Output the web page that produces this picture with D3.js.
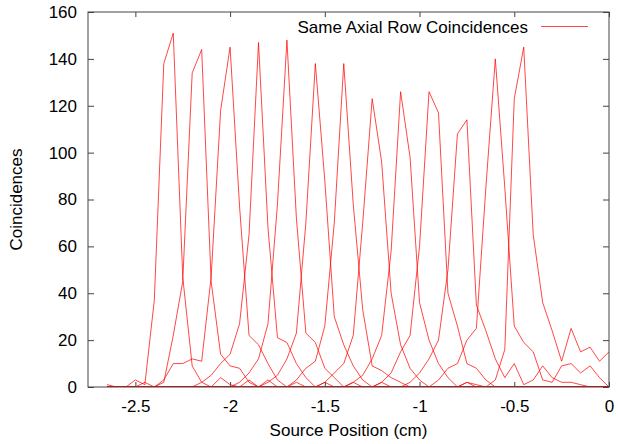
<!DOCTYPE html>
<html>
<head>
<meta charset="utf-8">
<script src="https://cdn.jsdelivr.net/npm/d3@7"></script>
<style>
  body { margin: 0; background: #fff; }
  svg text { font-family: "Liberation Sans", Arial, Helvetica, sans-serif; }
</style>
</head>
<body>
<div id="container"></div>
<script>
// source positions (cm), one per sample
const positions = [
  -2.65, -2.6, -2.55, -2.5, -2.45, -2.4, -2.35, -2.3, -2.25, -2.2,
  -2.15, -2.1, -2.05, -2.0, -1.95, -1.9, -1.85, -1.8, -1.75, -1.7,
  -1.65, -1.6, -1.55, -1.5, -1.45, -1.4, -1.35, -1.3, -1.25, -1.2,
  -1.15, -1.1, -1.05, -1.0, -0.95, -0.9, -0.85, -0.8, -0.75, -0.7,
  -0.65, -0.6, -0.55, -0.5, -0.45, -0.4, -0.35, -0.3, -0.25, -0.2,
  -0.15, -0.1, -0.05, 0
];

// coincidences for each crystal row (same sample order as positions)
const row01 = [1, 0, 0, 3, 1, 37, 138, 151, 47, 9,
  2, 0, 4, 1, 0, 3, 0, 0, 0, 0,
  0, 0, 0, 0, 0, 0, 0, 0, 0, 0,
  0, 0, 0, 0, 0, 0, 0, 0, 0, 0,
  0, 0, 0, 0, 0, 0, 0, 0, 0, 0,
  0, 0, 0, 0];
const row02 = [0, 0, 0, 0, 2, 0, 2, 22, 45, 134,
  144, 45, 14, 9, 8, 2, 0, 3, 0, 0,
  0, 0, 0, 0, 0, 0, 0, 0, 0, 0,
  0, 0, 0, 0, 0, 0, 0, 0, 0, 0,
  0, 0, 0, 0, 0, 0, 0, 0, 0, 0,
  0, 0, 0, 0];
const row03 = [0, 0, 0, 0, 0, 0, 3, 10, 10, 12,
  11, 47, 118, 145, 77, 22, 18, 10, 3, 0,
  2, 0, 0, 0, 0, 0, 0, 0, 0, 0,
  0, 0, 0, 0, 0, 0, 0, 0, 0, 0,
  0, 0, 0, 0, 0, 0, 0, 0, 0, 0,
  0, 0, 0, 0];
const row04 = [0, 0, 0, 0, 0, 0, 0, 0, 0, 0,
  2, 5, 10, 14, 27, 65, 147, 68, 21, 19,
  10, 4, 0, 2, 0, 0, 0, 0, 0, 0,
  0, 0, 0, 0, 0, 0, 0, 0, 0, 0,
  0, 0, 0, 0, 0, 0, 0, 0, 0, 0,
  0, 0, 0, 0];
const row05 = [0, 0, 0, 0, 0, 0, 0, 0, 0, 0,
  0, 0, 0, 0, 2, 6, 12, 27, 78, 148,
  72, 23, 19, 8, 4, 0, 2, 0, 0, 0,
  0, 0, 0, 0, 0, 0, 0, 0, 0, 0,
  0, 0, 0, 0, 0, 0, 0, 0, 0, 0,
  0, 0, 0, 0];
const row06 = [0, 0, 0, 0, 0, 0, 0, 0, 0, 0,
  0, 0, 0, 0, 0, 0, 0, 2, 5, 12,
  23, 70, 138, 88, 30, 18, 9, 3, 0, 2,
  0, 0, 0, 0, 0, 0, 0, 0, 0, 0,
  0, 0, 0, 0, 0, 0, 0, 0, 0, 0,
  0, 0, 0, 0];
const row07 = [0, 0, 0, 0, 0, 0, 0, 0, 0, 0,
  0, 0, 0, 0, 0, 0, 0, 0, 0, 0,
  3, 8, 11, 26, 70, 138, 78, 33, 9, 7,
  4, 2, 0, 0, 0, 0, 0, 0, 0, 0,
  0, 0, 0, 0, 0, 0, 0, 0, 0, 0,
  0, 0, 0, 0];
const row08 = [0, 0, 0, 0, 0, 0, 0, 0, 0, 0,
  0, 0, 0, 0, 0, 0, 0, 0, 0, 0,
  0, 0, 0, 2, 6, 10, 22, 70, 123, 96,
  40, 18, 8, 3, 0, 0, 0, 0, 0, 0,
  0, 0, 0, 0, 0, 0, 0, 0, 0, 0,
  0, 0, 0, 0];
const row09 = [0, 0, 0, 0, 0, 0, 0, 0, 0, 0,
  0, 0, 0, 0, 0, 0, 0, 0, 0, 0,
  0, 0, 0, 0, 0, 0, 2, 5, 12, 22,
  58, 126, 98, 36, 20, 10, 4, 0, 2, 0,
  0, 0, 0, 0, 0, 0, 0, 0, 0, 0,
  0, 0, 0, 0];
const row10 = [0, 0, 0, 0, 0, 0, 0, 0, 0, 0,
  0, 0, 0, 0, 0, 0, 0, 0, 0, 0,
  0, 0, 0, 0, 0, 0, 0, 0, 0, 2,
  6, 15, 22, 60, 126, 117, 40, 26, 10, 8,
  3, 0, 0, 0, 0, 0, 0, 0, 0, 0,
  0, 0, 0, 0];
const row11 = [0, 0, 0, 0, 0, 0, 0, 0, 0, 0,
  0, 0, 0, 0, 0, 0, 0, 0, 0, 0,
  0, 0, 0, 0, 0, 0, 0, 0, 0, 0,
  0, 0, 2, 6, 12, 20, 50, 108, 114, 35,
  24, 12, 4, 10, 1, 3, 9, 4, 2, 2,
  1, 0, 0, 0];
const row12 = [0, 0, 0, 0, 0, 0, 0, 0, 0, 0,
  0, 0, 0, 0, 0, 0, 0, 0, 0, 0,
  0, 0, 0, 0, 0, 0, 0, 0, 0, 0,
  0, 0, 0, 0, 0, 3, 8, 10, 20, 25,
  85, 140, 85, 26, 19, 15, 3, 2, 9, 10,
  6, 9, 4, 0];
const row13 = [0, 0, 0, 0, 0, 0, 0, 0, 0, 0,
  0, 0, 0, 0, 0, 0, 0, 0, 0, 0,
  0, 0, 0, 0, 0, 0, 0, 0, 0, 0,
  0, 0, 0, 0, 0, 0, 0, 0, 2, 1,
  0, 3, 16, 123, 145, 65, 36, 24, 11, 25,
  15, 17, 11, 15];

const rows = [row01, row02, row03, row04, row05, row06, row07,
  row08, row09, row10, row11, row12, row13];

const xTicks = [-2.5, -2, -1.5, -1, -0.5, 0];
const yTicks = [0, 20, 40, 60, 80, 100, 120, 140, 160];
const seriesName = "Same Axial Row Coincidences";

const width = 618, height = 444;
const margin = { top: 12, right: 9, bottom: 57, left: 88 };
const plotW = width - margin.left - margin.right;
const plotH = height - margin.top - margin.bottom;
const red = "#ff0000";

const svg = d3.select("#container").append("svg")
  .attr("width", width).attr("height", height)
  .style("display", "block");

svg.append("rect").attr("width", width).attr("height", height).attr("fill", "#fff");

const g = svg.append("g").attr("transform", `translate(${margin.left},${margin.top})`);

const xScale = d3.scaleLinear().domain([-2.75, 0]).range([0, plotW]);
const yScale = d3.scaleLinear().domain([0, 160]).range([plotH, 0]);

g.append("clipPath").attr("id", "plot-clip")
  .append("rect").attr("width", plotW).attr("height", plotH);

const line = d3.line()
  .x((d, i) => xScale(positions[i]))
  .y((d) => yScale(d));

g.append("g").attr("clip-path", "url(#plot-clip)")
  .selectAll("path").data(rows).join("path")
  .attr("d", line)
  .attr("fill", "none")
  .attr("stroke", red)
  .attr("stroke-opacity", 0.72)
  .attr("stroke-width", 1);

// axes: ticks point inward on all four sides
const fmt = (d) => String(d);
const axBottom = g.append("g").attr("transform", `translate(0,${plotH})`)
  .call(d3.axisBottom(xScale).tickValues(xTicks).tickFormat(fmt)
    .tickSizeInner(-5).tickSizeOuter(0).tickPadding(13));
const axTop = g.append("g")
  .call(d3.axisTop(xScale).tickValues(xTicks).tickFormat("")
    .tickSizeInner(-5).tickSizeOuter(0));
const axLeft = g.append("g")
  .call(d3.axisLeft(yScale).tickValues(yTicks).tickFormat(fmt)
    .tickSizeInner(-6).tickSizeOuter(0).tickPadding(11));
const axRight = g.append("g").attr("transform", `translate(${plotW},0)`)
  .call(d3.axisRight(yScale).tickValues(yTicks).tickFormat("")
    .tickSizeInner(-6).tickSizeOuter(0));

[axBottom, axTop, axLeft, axRight].forEach((a) => {
  a.select(".domain").remove();
  a.selectAll("line").attr("stroke", "#444");
  a.selectAll("text").attr("font-size", 17).attr("fill", "#000")
    .style("font-family", '"Liberation Sans", Arial, sans-serif');
});

g.append("rect").attr("width", plotW).attr("height", plotH)
  .attr("fill", "none").attr("stroke", "#444").attr("stroke-width", 1);

// axis titles
svg.append("text")
  .attr("x", margin.left + plotW / 2).attr("y", 436)
  .attr("text-anchor", "middle").attr("font-size", 17)
  .text("Source Position (cm)");

svg.append("text")
  .attr("transform", `translate(22,${margin.top + plotH / 2}) rotate(-90)`)
  .attr("text-anchor", "middle").attr("font-size", 17)
  .text("Coincidences");

// key
svg.append("text")
  .attr("x", 528).attr("y", 32.5)
  .attr("text-anchor", "end").attr("font-size", 17)
  .text(seriesName);
svg.append("line")
  .attr("x1", 541).attr("x2", 588).attr("y1", 26.5).attr("y2", 26.5)
  .attr("stroke", red).attr("stroke-opacity", 0.72).attr("stroke-width", 1);
</script>
</body>
</html>
